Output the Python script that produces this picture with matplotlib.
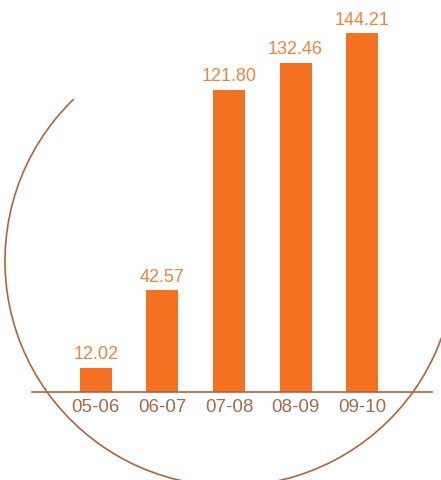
import numpy as np
import matplotlib
matplotlib.use('Agg')
import matplotlib.pyplot as plt
from matplotlib.patches import Arc

seasons = ['05-06', '06-07', '07-08', '08-09', '09-10']
values = [12.02, 42.57, 121.80, 132.46, 144.21]

bar_color = '#F37121'
label_color = '#F2823F'
brown = '#B0643C'
tick_color = '#A8694A'

plt.rcParams['font.family'] = ['Liberation Sans', 'DejaVu Sans']

W, H = 441, 481
fig = plt.figure(figsize=(W / 100, H / 100), dpi=100)

# bar axes: baseline at y=393 px, spans x 32..432 px
ax = fig.add_axes([32 / W, (H - 393) / H, 400 / W, 393 / H])
x = np.arange(len(seasons))
bars = ax.bar(x, values, width=0.48, color=bar_color, zorder=2)
ax.set_xlim(-0.96, 5.05)
ax.set_ylim(2.4, 157.7)
for b, v in zip(bars, values):
    ax.annotate(f'{v:.2f}', (b.get_x() + b.get_width() / 2, v),
                xytext=(0, 4), textcoords='offset points',
                ha='center', va='bottom', fontsize=13, color=label_color)
ax.set_xticks(x)
ax.set_xticklabels(seasons, fontsize=13.5, color=tick_color)
ax.tick_params(axis='x', length=0, pad=4)
ax.set_yticks([])
for s in ['top', 'right', 'left']:
    ax.spines[s].set_visible(False)
ax.spines['bottom'].set_color(brown)
ax.spines['bottom'].set_linewidth(1.2)
ax.spines['bottom'].set_zorder(3)
ax.patch.set_alpha(0)

# decorative circle arc drawn in pixel coordinates over the whole figure
over = fig.add_axes([0, 0, 1, 1], zorder=-1)
over.set_xlim(0, W)
over.set_ylim(0, H)
over.axis('off')
over.add_patch(Arc((230, H - 262), 450, 450, theta1=134, theta2=352,
                   color=brown, lw=1.2))

fig.savefig('out.png', dpi=100)
